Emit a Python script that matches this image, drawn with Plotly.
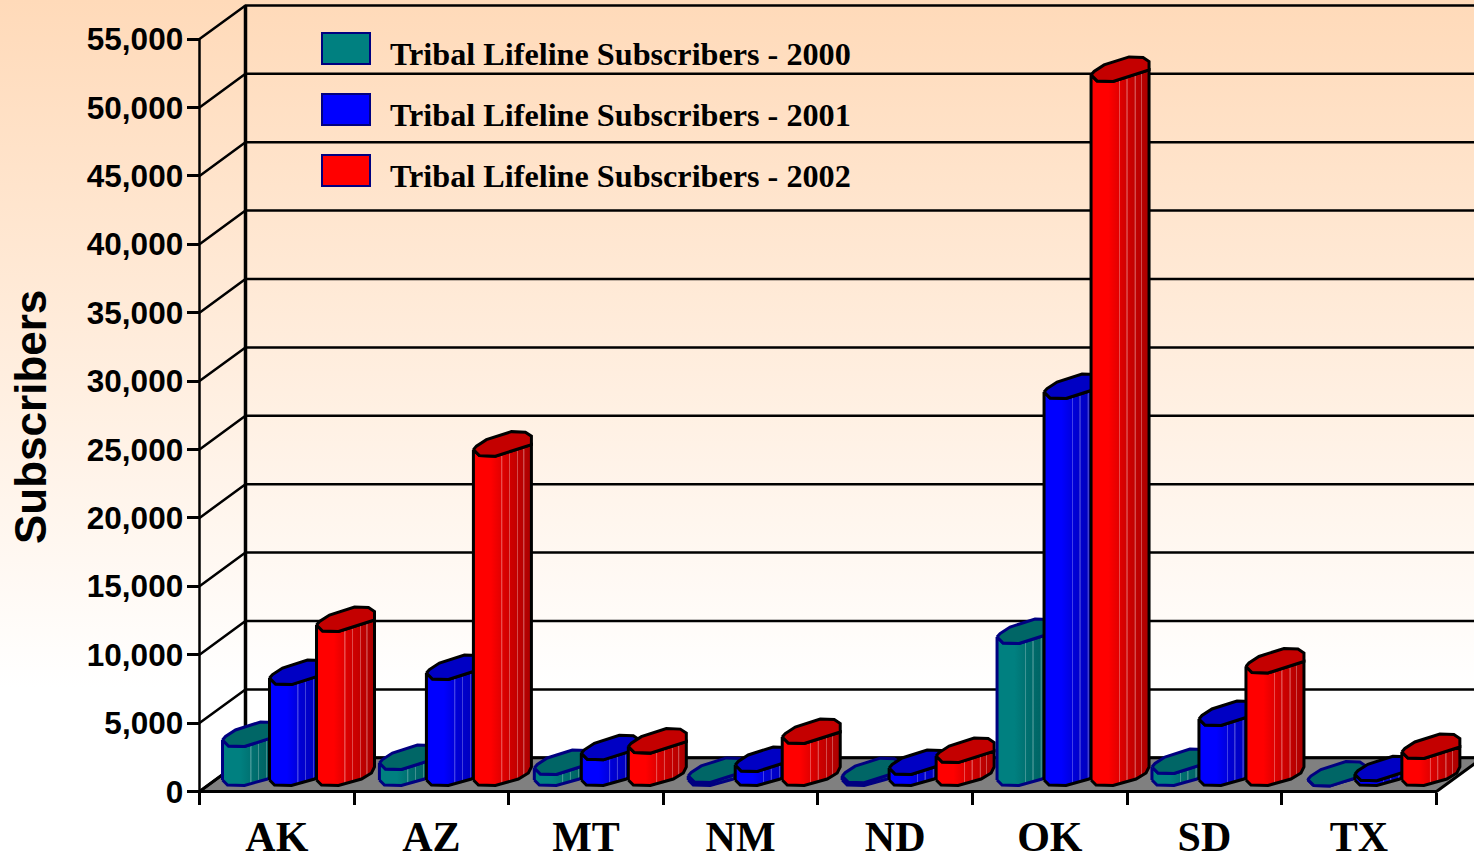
import plotly.graph_objects as go

categories = ["AK", "AZ", "MT", "NM", "ND", "OK", "SD", "TX"]
series_names = ["Tribal Lifeline Subscribers - 2000",
                "Tribal Lifeline Subscribers - 2001",
                "Tribal Lifeline Subscribers - 2002"]
values_2000 = [2925, 1240, 880, 300, 280, 10450, 950, 30]
values_2001 = [7450, 7820, 1950, 1100, 880, 28360, 4460, 420]
values_2002 = [11330, 24150, 2440, 3140, 1750, 51540, 8300, 2050]
y_ticks = list(range(0, 55001, 5000))

W, H = 1474, 860
PX_X = 1 / 154.6           # category units per pixel
PX_Y = 5000 / 68.4         # subscribers per pixel
X0, Y0 = 199.5, 791.5      # pixel position of the front-left origin
DEPTH_X, DEPTH_Y = 46 * PX_X, 33.7 * PX_Y
x_range = [-X0 * PX_X, (W - X0) * PX_X]
y_range = [-(H - Y0) * PX_Y, Y0 * PX_Y]

BASE_Y = 11.5 * PX_Y       # bars stand a little behind the front of the floor
BAR_START = 23 * PX_X
BAR_STEP = 47 * PX_X
CAT_STEP = 1.002
CAT_NUDGE_PX = [0, 2, 2, 1, 0, 0, 0, 1]
TOP = [(0, 0), (6, 6), (22, 6.5), (58, -5), (58, -13.5), (52, -17.5),
       (38, -18), (13, -10), (3, -3.5)]
TOP_FRONT = [(0, 0), (6, 6), (22, 6.5), (58, -5)]
BASE_FRONT = [(58, -13), (55, -7), (45, -1), (22, 5.5), (5, 5), (0, 0)]


def lerp_scale(anchors, stripes, stripe_mix):
    """Horizontal shading of the front of a bar, with its thin light stripes."""
    def col(t):
        for (a, ca), (b, cb) in zip(anchors, anchors[1:]):
            if a <= t <= b:
                f = (t - a) / (b - a)
                return tuple(round(x + (y - x) * f) for x, y in zip(ca, cb))
        return anchors[-1][1]
    rgb = lambda c: f"rgb({c[0]},{c[1]},{c[2]})"
    result = [[a, rgb(c)] for a, c in anchors]
    for s in stripes:
        c = col(s)
        light = tuple(round(v + (255 - v) * stripe_mix) for v in c)
        result += [[s - 0.014, rgb(col(s - 0.014))], [s - 0.007, rgb(light)],
                   [s + 0.007, rgb(light)], [s + 0.014, rgb(col(s + 0.014))]]
    return sorted(result, key=lambda r: r[0])


STRIPES = (0.49, 0.62, 0.76, 0.87)
styles = [
    dict(values=values_2000, outline="#000080", top="#006666",
         scale=lerp_scale([(0, (0, 128, 128)), (0.3, (0, 128, 128)), (0.55, (0, 110, 110)), (1, (0, 90, 90))], STRIPES, 0.25)),
    dict(values=values_2001, outline="#000000", top="#0000C4",
         scale=lerp_scale([(0, (0, 0, 255)), (0.3, (0, 0, 255)), (0.55, (0, 0, 210)), (1, (0, 0, 170))], STRIPES, 0.25)),
    dict(values=values_2002, outline="#000000", top="#C40000",
         scale=lerp_scale([(0, (255, 0, 0)), (0.3, (255, 0, 0)), (0.55, (215, 0, 0)), (1, (170, 0, 0))], STRIPES, 0.3)),
]

fig = go.Figure()

# Page background
fig.add_trace(go.Scatter(
    x=[x_range[0], x_range[1], x_range[1], x_range[0], x_range[0]],
    y=[y_range[0], y_range[0], y_range[1], y_range[1], y_range[0]],
    mode="none", fill="toself", hoverinfo="skip", showlegend=False,
    fillgradient=dict(type="vertical", start=y_range[1], stop=y_range[0],
                      colorscale=[[0, "#FFDAB9"], [0.8, "#FFFFFF"], [1, "#FFFFFF"]]),
))

# Floor
x_end = (1436.5 - X0) * PX_X
fig.add_trace(go.Scatter(
    x=[0, DEPTH_X, x_end + DEPTH_X, x_end, 0],
    y=[0, DEPTH_Y, DEPTH_Y, 0, 0],
    mode="lines", fill="toself", fillcolor="#808080",
    line=dict(color="#000000", width=3), hoverinfo="skip", showlegend=False,
))

# Walls and grid
gx, gy = [], []
for v in y_ticks:
    gx += [0, DEPTH_X, x_range[1], None]
    gy += [v, v + DEPTH_Y, v + DEPTH_Y, None]
fig.add_trace(go.Scatter(x=gx, y=gy, mode="lines", line=dict(color="#000000", width=2.5),
                         hoverinfo="skip", showlegend=False))
fig.add_trace(go.Scatter(x=[0, 0], y=[0, y_ticks[-1]], mode="lines",
                         line=dict(color="#000000", width=2.5), hoverinfo="skip", showlegend=False))
fig.add_trace(go.Scatter(x=[DEPTH_X, DEPTH_X], y=[DEPTH_Y, y_ticks[-1] + DEPTH_Y], mode="lines",
                         line=dict(color="#000000", width=3.5), hoverinfo="skip", showlegend=False))

# Bars
for c in range(len(categories)):
    for s, st in enumerate(styles):
        v = st["values"][c]
        left = c * CAT_STEP + CAT_NUDGE_PX[c] * PX_X + BAR_START + s * BAR_STEP
        top_y = BASE_Y + v
        px = lambda dx: left + dx * PX_X
        up = lambda base, dy: base - dy * PX_Y
        bx = [left] + [px(d[0]) for d in TOP_FRONT] + [px(d[0]) for d in BASE_FRONT]
        by = [BASE_Y] + [up(top_y, d[1]) for d in TOP_FRONT] + [up(BASE_Y, d[1]) for d in BASE_FRONT]
        fig.add_trace(go.Scatter(
            x=bx, y=by, mode="lines", fill="toself",
            line=dict(color=st["outline"], width=3), hoverinfo="skip", showlegend=False,
            name=series_names[s],
            fillgradient=dict(type="horizontal", start=left, stop=px(58), colorscale=st["scale"]),
        ))
        tx = [px(d[0]) for d in TOP] + [left]
        ty = [up(top_y, d[1]) for d in TOP] + [top_y]
        fig.add_trace(go.Scatter(
            x=tx, y=ty, mode="lines", fill="toself", fillcolor=st["top"],
            line=dict(color=st["outline"], width=3), hoverinfo="skip", showlegend=False,
        ))

# Legend
swatch_tops = [33, 94, 155]
swatch_colors = ["#008080", "#0000FF", "#FF0000"]
shapes, annotations = [], []
for name, t, col in zip(series_names, swatch_tops, swatch_colors):
    shapes.append(dict(type="rect", xref="paper", yref="paper",
                       x0=322 / W, x1=370 / W, y0=1 - t / H, y1=1 - (t + 31) / H,
                       fillcolor=col, line=dict(color="#000080", width=2), layer="above"))
    annotations.append(dict(text=name, xref="paper", yref="paper", x=388 / W, y=1 - (t + 21) / H,
                            xanchor="left", yanchor="middle", showarrow=False,
                            font=dict(family="Liberation Serif", size=32.2, color="#000000", weight="bold")))
annotations.append(dict(text="Subscribers", xref="paper", yref="paper", x=30 / W, y=1 - 417 / H,
                        xanchor="center", yanchor="middle", textangle=-90, showarrow=False,
                        font=dict(family="Liberation Sans", size=44, color="#000000", weight="bold")))

fig.update_layout(
    width=W, height=H, margin=dict(l=0, r=0, t=0, b=0), showlegend=False,
    paper_bgcolor="#FFFFFF", plot_bgcolor="#FFFFFF",
    shapes=shapes, annotations=annotations,
    xaxis=dict(range=x_range, domain=[0, 1], anchor="free", position=(H - Y0) / H, automargin=False,
               tickmode="array", tickvals=[i + 0.5 for i in range(len(categories))], ticktext=categories,
               ticks="", ticklabelstandoff=16, showgrid=False, zeroline=False, showline=False,
               tickfont=dict(family="Liberation Serif", size=42, color="#000000", weight="bold"),
               minor=dict(tickmode="array", tickvals=list(range(len(categories) + 1)),
                          ticks="outside", ticklen=12, tickwidth=2.5, tickcolor="#000000", showgrid=False)),
    yaxis=dict(range=y_range, domain=[0, 1], anchor="free", position=X0 / W, automargin=False,
               tickmode="array", tickvals=y_ticks, tickformat=",", ticks="outside", ticklen=13, tickwidth=2.5,
               tickcolor="#000000", ticklabelstandoff=-3, showgrid=False, zeroline=False, showline=False,
               tickfont=dict(family="Liberation Sans", size=31.5, color="#000000", weight="bold")),
)

fig.write_html("out.html", config=dict(displayModeBar=False),
               post_script="document.body.style.margin='0';document.body.style.overflow='hidden';")
